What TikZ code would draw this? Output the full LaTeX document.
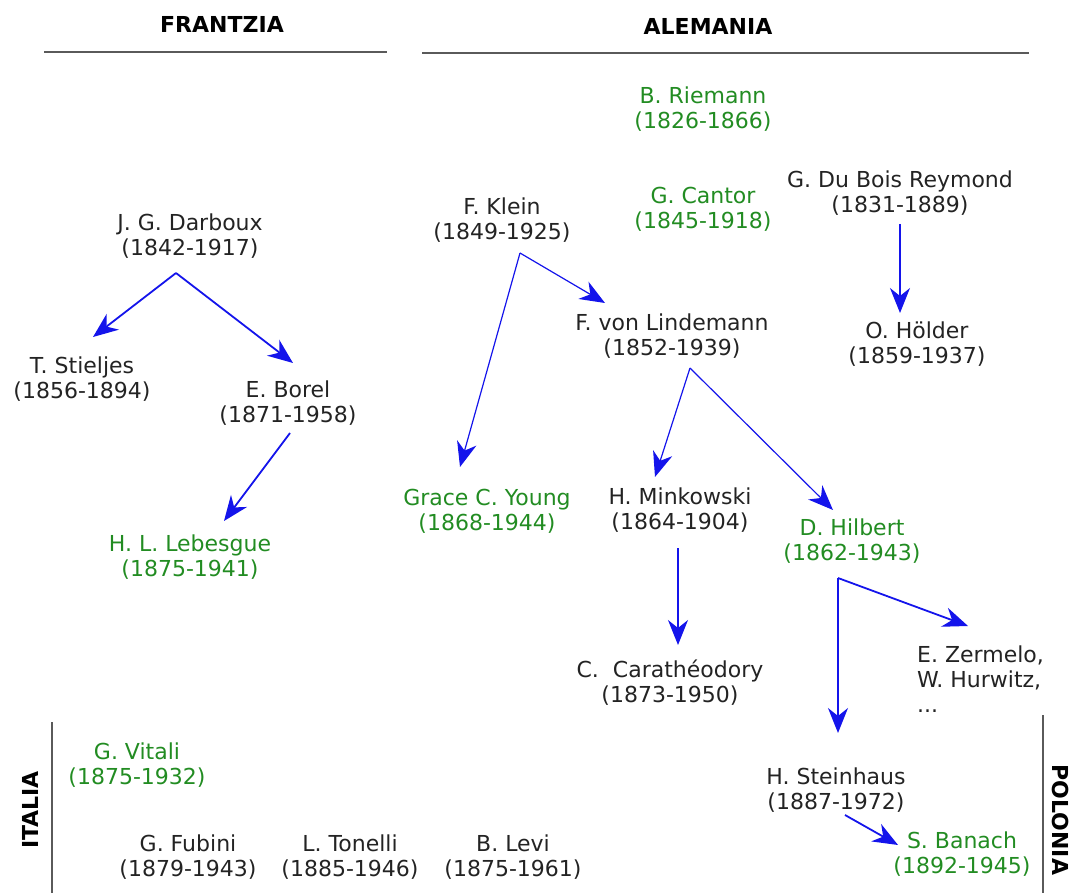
\documentclass[tikz,border=0pt]{standalone}
\usepackage{fontspec}
\setmainfont{DejaVu Sans}
\usetikzlibrary{arrows.meta,calc}

\definecolor{namegreen}{RGB}{34,140,34}
\definecolor{nameblack}{RGB}{35,35,35}
\definecolor{linkblue}{RGB}{20,20,235}
\definecolor{rulegray}{RGB}{90,90,90}

\begin{document}
\begin{tikzpicture}[x=1pt,y=-1pt,
  every node/.style={font=\fontsize{22}{25}\selectfont,inner sep=0pt},
  who/.style={align=center,text=nameblack},
  star/.style={align=center,text=namegreen},
  land/.style={font=\fontsize{22}{25}\selectfont\bfseries,text=black},
  border/.style={draw=rulegray,line width=1.6pt},
  arr/.style={draw=linkblue,line width=1.8pt,-{Stealth[length=25pt,width=20pt,inset=8pt]}},
  thin/.style={line width=1.2pt}]
\useasboundingbox (0,0) rectangle (1072,893);
% countries
\node[land] (fr) at (222,24) {FRANTZIA};
\node[land] (de) at (708,26) {ALEMANIA};
\node[land,rotate=90] (it) at (30,810) {ITALIA};
\node[land,rotate=-90] (pl) at (1060,820) {POLONIA};
\draw[border] (44,52) -- (387,52);
\draw[border] (422,53) -- (1029,53);
\draw[border] (52,722) -- (52,893);
\draw[border] (1043,715) -- (1043,893);
% Frantzia
\node[who] (darboux) at (190,236) {J. G. Darboux\\(1842-1917)};
\node[who] (stieljes) at (82,379) {T. Stieljes\\(1856-1894)};
\node[who] (borel) at (288,403) {E. Borel\\(1871-1958)};
\node[star] (lebesgue) at (190,557) {H. L. Lebesgue\\(1875-1941)};
% Alemania
\node[star] (riemann) at (703,109) {B. Riemann\\(1826-1866)};
\node[star] (cantor) at (703,209) {G. Cantor\\(1845-1918)};
\node[who] (dubois) at (900,193) {G. Du Bois Reymond\\(1831-1889)};
\node[who] (klein) at (502,220) {F. Klein\\(1849-1925)};
\node[who] (lindemann) at (672,336) {F. von Lindemann\\(1852-1939)};
\node[who] (holder) at (917,344) {O. Hölder\\(1859-1937)};
\node[star] (young) at (487,511) {Grace C. Young\\(1868-1944)};
\node[who] (minkowski) at (680,510) {H. Minkowski\\(1864-1904)};
\node[star] (hilbert) at (852,541) {D. Hilbert\\(1862-1943)};
\node[who] (carath) at (670,683) {C.\ \ Carathéodory\\(1873-1950)};
\node[who,align=left,anchor=west] (zermelo) at (917,679) {E. Zermelo,\\W. Hurwitz,\\...};
% Italia
\node[star] (vitali) at (137,765) {G. Vitali\\(1875-1932)};
\node[who] (fubini) at (188,857) {G. Fubini\\(1879-1943)};
\node[who] (tonelli) at (350,857) {L. Tonelli\\(1885-1946)};
\node[who] (levi) at (513,857) {B. Levi\\(1875-1961)};
% Polonia
\node[who] (steinhaus) at (836,790) {H. Steinhaus\\(1887-1972)};
\node[star] (banach) at (962,854) {S. Banach\\(1892-1945)};
% forks
\coordinate (dfork) at ($(darboux.center)+(-14,37)$);
\coordinate (kfork) at ($(klein.center)+(18,33)$);
\coordinate (lfork) at ($(lindemann.center)+(18,32)$);
\coordinate (hfork) at ($(hilbert.center)+(-14,37)$);
% links
\draw[arr] (dfork) -- ($(stieljes.center)+(11,-42)$);
\draw[arr] (dfork) -- ($(borel.center)+(5,-40)$);
\draw[arr] ($(borel.center)+(2,30)$) -- ($(lebesgue.center)+(34,-36)$);
\draw[arr,thin] (kfork) -- ($(young.center)+(-27,-44)$);
\draw[arr,thin] (kfork) -- ($(lindemann.center)+(-67,-33)$);
\draw[arr,thin] ($(dubois.center)+(0,31)$) -- ($(holder.center)+(-17,-31)$);
\draw[arr,thin] (lfork) -- ($(minkowski.center)+(-25,-33)$);
\draw[arr,thin] (lfork) -- ($(hilbert.center)+(-19,-31)$);
\draw[arr,thin] ($(minkowski.center)+(-2,38)$) -- ($(carath.center)+(8,-38)$);
\draw[arr] (hfork) -- ($(zermelo.west)+(51,-53)$);
\draw[arr] (hfork) -- ($(steinhaus.center)+(2,-57)$);
\draw[arr] ($(steinhaus.center)+(9,25)$) -- ($(banach.center)+(-64,-9)$);
\end{tikzpicture}
\end{document}
